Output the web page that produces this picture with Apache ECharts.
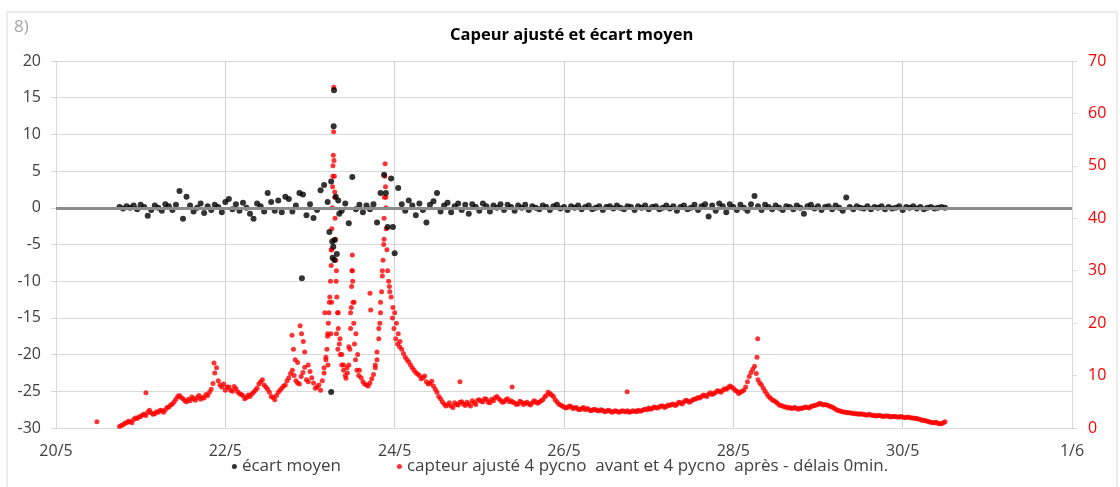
<!DOCTYPE html>
<html>
<head>
<meta charset="utf-8">
<script src="https://cdn.jsdelivr.net/npm/echarts@6/dist/echarts.min.js"></script>
<style>
html, body { margin: 0; padding: 0; background: #fff; }
#chart { width: 1120px; height: 487px; }
</style>
</head>
<body>
<div id="chart"></div>
<script>
// ==============================================================
// data (hours counted from 20/5 00:00)
// ==============================================================
var dateLabels = ['20/5', '22/5', '24/5', '26/5', '28/5', '30/5', '1/6'];
var firstHour = 18;

// capteur ajusté (right axis), readings on the hour from 18h
var capteurValues = [
	0.3, 0.6, 1.0, 1.2, 1.6, 1.8, 2.2, 2.6, 3.0, 2.9,
	2.7, 3.0, 3.3, 3.5, 4.0, 4.6, 5.5, 6.2, 5.6, 5.0,
	5.2, 5.6, 5.8, 5.5, 5.7, 6.2, 7.4, 10.5, 9.0, 7.8,
	7.2, 7.8, 7.0, 7.5, 6.6, 6.2, 5.8, 6.0, 6.8, 7.6,
	8.8, 8.2, 7.4, 6.0, 5.4, 6.8, 7.6, 8.2, 9.6, 11.0,
	9.0, 8.4, 10.6, 9.2, 10.8, 8.6, 7.8, 7.2, 11.5, 18.0,
	34, 45, 22, 14, 10.0, 15.5, 30, 18, 11, 8.8,
	8.2, 8.6, 10.2, 14.5, 24, 36, 30, 25, 22, 18,
	15.0, 13.5, 12.6, 11.5, 10.6, 10.0, 9.6, 8.8, 8.5, 8.0,
	6.8, 5.6, 4.6, 4.4, 4.2, 4.8, 4.4, 5.0, 4.3, 4.6,
	5.2, 4.5, 5.4, 5.0, 5.5, 4.8, 5.2, 6.0, 5.3, 5.0,
	5.6, 5.2, 4.8, 4.6, 4.9, 4.7, 4.6, 4.8, 5.0, 4.9,
	5.4, 6.2, 6.6, 6.0, 5.0, 4.4, 4.0, 3.9, 4.1, 3.8,
	3.6, 3.7, 3.5, 3.6, 3.4, 3.5, 3.3, 3.4, 3.2, 3.3,
	3.1, 3.2, 3.1, 3.2, 3.3, 3.1, 3.2, 3.4, 3.3, 3.6,
	3.8, 3.7, 3.9, 4.0, 4.2, 4.1, 4.3, 4.6, 4.5, 4.8,
	5.0, 5.2, 5.1, 5.5, 5.8, 6.0, 6.2, 6.5, 6.4, 6.8,
	7.0, 7.2, 7.4, 8.0, 7.6, 7.0, 6.8, 7.2, 8.8, 10.6,
	11.8, 9.2, 8.2, 7.0, 6.0, 5.4, 5.0, 4.4, 4.2, 4.0,
	3.9, 3.8, 3.7, 3.8, 3.9, 3.9, 4.1, 4.3, 4.5, 4.6,
	4.5, 4.3, 4.0, 3.6, 3.3, 3.1, 3.0, 2.9, 2.8, 2.7,
	2.7, 2.6, 2.5, 2.5, 2.4, 2.4, 2.3, 2.3, 2.3, 2.2,
	2.2, 2.1, 2.1, 2.0, 2.0, 1.9, 1.8, 1.6, 1.5, 1.3,
	1.1, 1.0, 0.9, 0.8, 1.2
];

// capteur ajusté, readings on the half hour from 18h30
var capteurHalfValues = [
	0.5, 0.9, 1.3, 1.0, 1.9, 2.1, 2.5, 2.4, 3.4, 2.6,
	3.1, 3.4, 3.0, 3.9, 4.4, 5.0, 6.0, 5.8, 5.2, 5.5,
	5.9, 5.3, 6.2, 5.8, 6.4, 6.8, 8.5, 11.5, 8.2, 8.4,
	7.8, 7.2, 7.9, 6.9, 6.4, 5.6, 6.3, 6.5, 7.2, 8.4,
	9.2, 7.8, 6.8, 5.8, 6.2, 7.2, 8.0, 9.0, 10.4, 10.0,
	8.6, 9.8, 11.6, 8.8, 9.6, 7.6, 8.2, 9.0, 13.5, 24.0,
	48, 30, 17, 12, 11.5, 22, 24, 14, 9.6, 8.4,
	8.0, 9.4, 12.0, 19.0, 30, 44, 27, 23, 20, 16.5,
	14.2, 13.0, 12.0, 11.0, 10.3, 9.4, 9.9, 8.4, 8.9, 7.4,
	6.0, 5.0, 4.2, 4.8, 3.9, 4.5, 4.9, 4.6, 4.9, 4.2,
	4.8, 5.3, 5.1, 5.6, 4.9, 5.5, 5.8, 5.6, 4.9, 5.4,
	5.0, 4.9, 4.5, 5.1, 4.5, 4.9, 4.4, 5.2, 4.7, 5.2,
	5.9, 6.8, 6.3, 5.4, 4.6, 4.2, 3.8, 4.2, 3.7, 3.9,
	3.5, 3.9, 3.7, 3.3, 3.6, 3.3, 3.5, 3.1, 3.4, 3.0,
	3.3, 3.0, 3.3, 3.1, 3.0, 3.3, 3.1, 3.2, 3.5, 3.5,
	3.6, 4.0, 3.8, 4.2, 3.9, 4.4, 4.5, 4.3, 4.9, 4.6,
	5.3, 4.9, 5.4, 5.6, 5.7, 6.3, 6.0, 6.7, 6.6, 7.1,
	6.8, 7.5, 7.7, 7.8, 7.2, 6.6, 7.0, 7.8, 9.8, 11.2,
	10.4, 8.6, 7.6, 6.5, 5.7, 5.2, 4.7, 4.3, 4.0, 3.8,
	3.7, 3.9, 3.6, 3.7, 4.0, 3.8, 4.2, 4.4, 4.7, 4.4,
	4.4, 4.1, 3.8, 3.4, 3.2, 3.0, 2.9, 2.8, 2.7, 2.6,
	2.6, 2.5, 2.6, 2.4, 2.3, 2.4, 2.2, 2.3, 2.1, 2.2,
	2.1, 2.2, 2.0, 2.1, 1.9, 1.8, 1.7, 1.5, 1.4, 1.2,
	1.0, 1.1, 0.8, 1.0
];

// extra capteur readings (peaks, isolated points)
var capteurExtra = [
	[11.6, 1.2], [25.5, 6.7], [44.8, 12.4], [66.9, 17.7], [67.3, 15.0], [67.8, 13.0],
	[68.5, 12.5], [69.2, 19.5], [69.6, 18.0], [70.1, 16.5], [70.5, 14.5], [71.5, 12.0],
	[76.0, 10.5], [76.2, 22.0], [76.5, 13.0], [76.8, 15.0], [77.0, 17.5], [77.1, 12.0],
	[77.2, 20.0], [77.4, 22.0], [77.6, 25.0], [77.8, 28.0], [77.9, 18.0], [78.0, 31.0],
	[78.1, 24.0], [78.15, 34.0], [78.2, 38.0], [78.3, 42.0], [78.4, 46.0], [78.5, 50.0],
	[78.6, 52.0], [78.7, 56.5], [78.75, 65.0], [78.8, 51.0], [78.9, 48.0], [79.0, 44.0],
	[79.1, 40.0], [79.2, 36.0], [79.3, 32.0], [79.4, 28.0], [79.5, 18.0], [79.6, 25.0],
	[79.8, 22.0], [79.9, 15.0], [80.0, 19.0], [80.3, 16.0], [80.6, 14.0], [81.0, 12.0],
	[81.5, 11.0], [82.2, 9.5], [82.6, 10.5], [83.0, 12.0], [83.3, 15.0], [83.5, 19.0],
	[83.7, 23.0], [83.8, 27.0], [83.9, 30.0], [84.0, 33.0], [84.1, 28.0], [84.2, 24.0],
	[84.4, 20.0], [84.6, 16.0], [84.9, 13.0], [85.3, 11.0], [85.8, 10.0], [89.0, 25.7],
	[89.2, 22.5], [90.5, 11.5], [91.0, 13.0], [91.5, 17.0], [91.8, 20.0], [92.0, 22.0],
	[92.3, 26.0], [92.5, 29.0], [92.7, 32.0], [92.9, 35.0], [93.0, 40.0], [93.1, 44.0],
	[93.2, 48.0], [93.3, 50.4], [93.4, 46.0], [93.5, 42.0], [93.6, 38.0], [93.8, 34.0],
	[94.3, 28.0], [94.6, 26.0], [95.4, 21.0], [95.8, 19.0], [96.3, 17.0], [96.8, 16.0],
	[97.4, 15.5], [114.5, 8.8], [129.3, 7.8], [161.9, 6.9], [198.7, 13.5], [198.9, 17.0]
];

// écart moyen (left axis), readings on the hour from 18h
var ecartValues = [
	0.1, -0.1, 0.2, 0.0, 0.3, -0.2, 0.4, 0.1, -1.1, -0.3,
	0.3, 0.0, -0.4, 0.5, 0.2, -0.3, 0.4, 2.3, -1.5, 1.5,
	0.3, -0.5, 0.0, 0.6, -0.7, 0.2, -0.3, 0.4, 0.1, -0.6,
	0.8, 1.2, -0.2, 0.5, -0.4, 0.7, 0.0, -0.8, -1.5, 0.6,
	0.2, -0.5, 2.0, 0.8, -0.4, 1.0, -0.6, 1.5, 1.2, -0.5,
	0.3, 2.0, 1.8, -1.0, 0.5, -1.4, -0.3, 2.4, 3.1, 0.8,
	3.6, -4.4, 1.0, -0.4, 0.6, -2.1, 4.2, -0.2, 0.4, -0.6,
	0.3, -0.2, 0.5, -2.0, 2.0, 4.5, -2.6, 4.0, -6.2, 2.7,
	0.5, -0.4, 1.0, 0.3, -1.0, 0.6, -0.3, -2.0, 0.4, 0.9,
	2.0, -0.5, 0.3, 0.7, -0.6, 0.2, 0.6, -0.3, 0.4, -0.8,
	0.5, 0.1, -0.4, 0.6, 0.2, -0.5, 0.3, 0.0, 0.5, -0.3,
	0.4, 0.1, -0.4, 0.3, 0.0, 0.4, -0.3, 0.2, 0.0, -0.2,
	0.3, 0.1, -0.3, 0.2, 0.4, -0.1, 0.1, -0.3, 0.2, 0.0,
	0.3, -0.2, 0.1, 0.3, -0.2, 0.0, 0.2, -0.3, 0.1, 0.2,
	-0.1, 0.3, 0.0, -0.2, 0.2, 0.1, -0.3, 0.2, 0.0, 0.3,
	-0.2, 0.1, 0.2, -0.2, 0.0, 0.3, -0.1, 0.2, -0.4, 0.1,
	0.3, -0.2, 0.0, 0.4, -0.3, 0.2, 0.5, -1.2, 0.3, -0.4,
	0.6, 0.2, -0.6, 0.5, 0.1, -0.3, 0.4, 0.0, -0.4, 0.5,
	1.6, 0.2, -0.3, 0.4, 0.1, -0.2, 0.3, 0.0, -0.3, 0.2,
	0.1, -0.2, 0.3, 0.0, -0.8, 0.2, 0.4, -0.1, 0.2, -0.3,
	0.1, 0.2, -0.2, 0.3, 0.0, -0.4, 1.4, 0.1, -0.2, 0.2,
	0.0, -0.1, 0.2, -0.2, 0.1, 0.0, 0.2, -0.2, 0.1, -0.1,
	0.0, 0.2, -0.3, 0.1, 0.0, 0.2, -0.1, 0.1, -0.2, 0.0,
	0.1, -0.1, 0.0, 0.1, 0.0
];

var ecartExtra = [
	[69.7, -9.6], [77.5, -3.3], [78.0, -25.1], [78.3, -4.6], [78.4, -6.8], [78.6, -5.3],
	[78.7, 11.1], [78.8, 16.0], [78.9, -7.1], [79.3, 1.5], [79.6, -6.3], [80.3, -0.8],
	[93.5, 2.0], [95.5, -2.6]
];

function timed(values, start) {
	return values.map(function (v, i) { return [start + i, v]; });
}

var capteurData = timed(capteurValues, firstHour)
	.concat(timed(capteurHalfValues, firstHour + 0.5))
	.concat(capteurExtra);
var ecartData = timed(ecartValues, firstHour).concat(ecartExtra);

var labelFont = '"Open Sans", sans-serif';
var chart = echarts.init(document.getElementById('chart'));
var option = {
	animation: false,
	backgroundColor: '#fff',
	title: {
		text: 'Capeur ajusté et écart moyen',
		left: 445,
		top: 22,
		textStyle: { fontFamily: labelFont, fontSize: 16.5, fontWeight: 'bold', color: '#000' }
	},
	graphic: [
		{ type: 'rect', shape: { x: 7, y: 12, width: 1110, height: 490 }, style: { fill: 'none', stroke: '#d9d9d9', lineWidth: 1 }, silent: true },
		{ type: 'text', left: 14, top: 19, style: { text: '8)', fill: '#a6a6a6', font: '17px "Open Sans", sans-serif' } }
	],
	legend: {
		top: 453,
		left: 'center',
		itemGap: 56,
		itemWidth: 5,
		itemHeight: 5,
		textStyle: { fontFamily: labelFont, fontSize: 17, color: '#404040' },
		data: [
			{ name: 'écart moyen', icon: 'circle' },
			{ name: 'capteur ajusté 4 pycno  avant et 4 pycno  après - délais 0min.', icon: 'circle' }
		]
	},
	grid: { left: 56, right: 48, top: 61, bottom: 59 },
	xAxis: {
		type: 'value',
		min: 0,
		max: 288,
		interval: 48,
		axisLine: { show: false },
		axisTick: { show: false },
		splitLine: { show: true, lineStyle: { color: '#d0d0d0', width: 1 } },
		axisLabel: {
			margin: 15,
			fontFamily: labelFont,
			fontSize: 16,
			color: '#404040',
			formatter: function (v) { return dateLabels[Math.round(v / 48)]; }
		}
	},
	yAxis: [
		{
			type: 'value',
			min: -30,
			max: 20,
			interval: 5,
			axisLine: { show: true, lineStyle: { color: '#d9d9d9' } },
			axisTick: { show: true, length: 5, lineStyle: { color: '#d9d9d9' } },
			splitLine: { show: true, lineStyle: { color: '#d9d9d9', width: 1 } },
			axisLabel: { margin: 15, fontFamily: labelFont, fontSize: 16, color: '#404040' }
		},
		{
			type: 'value',
			min: 0,
			max: 70,
			interval: 10,
			position: 'right',
			axisLine: { show: true, lineStyle: { color: '#d9d9d9' } },
			axisTick: { show: true, length: 5, lineStyle: { color: '#d9d9d9' } },
			splitLine: { show: false },
			axisLabel: { margin: 16, fontFamily: labelFont, fontSize: 16, color: '#ff0000' }
		}
	],
	series: [
		{
			// horizontal axis crossing at 0
			name: 'zero',
			type: 'line',
			data: [],
			z: 1,
			silent: true,
			markLine: {
				silent: true,
				symbol: ['none', 'none'],
				label: { show: false },
				lineStyle: { color: '#8c8c8c', width: 3, type: 'solid' },
				data: [{ yAxis: 0 }]
			}
		},
		{
			name: 'capteur ajusté 4 pycno  avant et 4 pycno  après - délais 0min.',
			type: 'scatter',
			yAxisIndex: 1,
			symbol: 'circle',
			symbolSize: 5,
			z: 2,
			itemStyle: { color: '#ff0000' },
			data: capteurData
		},
		{
			name: 'écart moyen',
			type: 'scatter',
			yAxisIndex: 0,
			symbol: 'circle',
			symbolSize: 6,
			z: 3,
			itemStyle: { color: '#000' },
			data: ecartData
		}
	]
};
chart.setOption(option);
</script>
</body>
</html>
